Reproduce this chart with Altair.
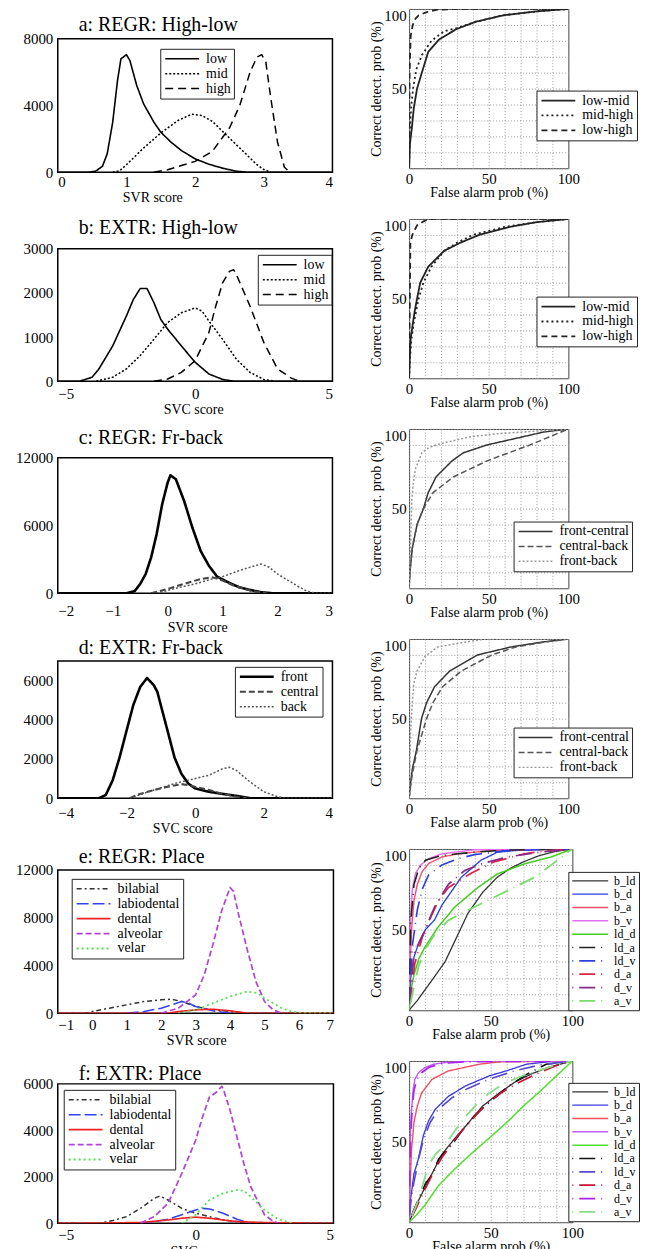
import altair as alt
import pandas as pd

FONT = "Liberation Serif"

# ---------------- panel a : REGR High-low ----------------
A_NAMES = ["low", "mid", "high"]
a_low = [[0, 0], [0.45, 0], [0.55, 60], [0.65, 350], [0.72, 1100], [0.8, 3000], [0.87, 5500], [0.92, 6800],
         [1.0, 7050], [1.05, 6700], [1.15, 5200], [1.25, 4100], [1.4, 3000], [1.5, 2400], [1.65, 1800],
         [1.8, 1300], [2.0, 800], [2.2, 480], [2.4, 240], [2.6, 60], [2.75, 0], [4, 0]]
a_mid = [[0.8, 0], [0.9, 80], [1.0, 450], [1.25, 1450], [1.5, 2350], [1.75, 3100], [1.95, 3480], [2.1, 3400],
         [2.25, 3050], [2.5, 2050], [2.75, 1050], [2.9, 450], [3.0, 160], [3.1, 0]]
a_high = [[1.4, 0], [1.6, 150], [1.8, 400], [2.0, 650], [2.25, 1250], [2.5, 2650], [2.65, 4000], [2.8, 6000],
          [2.9, 6900], [2.97, 7050], [3.03, 6600], [3.1, 4500], [3.2, 1800], [3.3, 300], [3.38, 0]]

RA_NAMES = ["low-mid", "mid-high", "low-high"]
ra_lm = [[0, 0], [0.5, 15], [1.7, 25], [3, 38], [5, 50], [8, 60], [12, 73], [19, 81], [30, 87.5], [42, 92],
         [59, 96], [80, 98.5], [100, 100]]
ra_mh = [[0, 0], [0.5, 25], [1.5, 40], [2.5, 50], [4.5, 62], [8, 71], [14, 80], [22, 86], [30, 88], [42, 92],
         [59, 96], [80, 98.5], [100, 100]]
ra_lh = [[0, 0], [0.3, 60], [1, 83], [2.3, 90], [4, 94], [6, 96], [11, 98], [17, 99.5], [30, 100], [100, 100]]

# ---------------- panel b : EXTR High-low ----------------
b_low = [[-5, 0], [-4.2, 0], [-3.75, 90], [-3.5, 280], [-3, 800], [-2.5, 1480], [-2.25, 1850], [-2, 2100],
         [-1.75, 2100], [-1.5, 1780], [-1.25, 1400], [-1, 1180], [-0.5, 800], [0, 430], [0.5, 165], [1, 40],
         [1.4, 0], [5, 0]]
b_mid = [[-3.6, 0], [-3, 90], [-2.5, 280], [-2, 580], [-1.5, 950], [-1, 1330], [-0.5, 1550], [0, 1660],
         [0.25, 1590], [0.5, 1365], [1, 950], [1.5, 500], [2, 200], [2.5, 40], [2.9, 0]]
b_high = [[-1.5, 0], [-1, 50], [-0.5, 200], [0, 465], [0.5, 1100], [0.75, 1700], [1, 2230], [1.25, 2490],
          [1.4, 2530], [1.5, 2420], [2, 1700], [2.5, 880], [3, 280], [3.5, 70], [3.8, 0]]

rb_lm = [[0, 0], [0.5, 15], [1, 25], [2, 32], [3.5, 42], [5, 50], [7, 60], [12, 70], [22, 80], [32, 85],
         [44, 90], [63, 95], [80, 98], [100, 100]]
rb_mh = [[0, 0], [0.5, 12], [1.5, 25], [3, 35], [6, 50], [9, 60], [14, 70], [22, 80], [30, 85], [40, 90],
         [60, 95], [80, 98], [100, 100]]
rb_lh = [[0, 0], [0.3, 30], [0.8, 85], [2, 90], [5, 96], [10, 99], [15, 100], [100, 100]]

# ---------------- panel c : REGR Fr-back ----------------
C_NAMES = ["front", "central", "back"]
c_front = [[-2, 0], [-0.75, 0], [-0.6, 180], [-0.5, 820], [-0.4, 1700], [-0.3, 3180], [-0.2, 5240],
           [-0.1, 7880], [0, 9800], [0.05, 10450], [0.15, 10100], [0.3, 8180], [0.45, 5820], [0.6, 3760],
           [0.75, 2440], [0.9, 1470], [1.1, 970], [1.3, 530], [1.5, 290], [1.7, 90], [1.9, 0], [3, 0]]
c_central = [[-0.3, 0], [0, 380], [0.2, 680], [0.4, 970], [0.6, 1260], [0.8, 1410], [0.9, 1300], [1.0, 1120],
             [1.2, 680], [1.5, 240], [1.8, 0]]
c_back = [[-0.2, 0], [0.2, 500], [0.5, 820], [0.8, 1250], [1.0, 1470], [1.3, 2000], [1.5, 2300], [1.7, 2590],
          [1.85, 2300], [2, 1700], [2.2, 1120], [2.4, 530], [2.55, 150], [2.7, 0], [3, 0]]

RC_NAMES = ["front-central", "central-back", "front-back"]
rc_fc = [[0, 0], [0.5, 10], [1, 15], [2, 25], [5, 40], [9, 50], [12, 60], [17, 70], [27, 80], [34, 85],
         [49, 90], [71, 95], [84, 98], [100, 100]]
rc_cb = [[0, 0], [0.5, 10], [1, 15], [2, 25], [5, 40], [9, 50], [15, 60], [28, 70], [49, 80], [76, 90],
         [88, 95], [100, 100]]
rc_fb = [[0, 0], [0.5, 20], [1, 30], [1.7, 55], [2.5, 65], [4, 75], [8, 85], [12, 88], [17, 90], [25, 92],
         [38, 95], [55, 97], [70, 98], [100, 100]]

# ---------------- panel d : EXTR Fr-back ----------------
d_front = [[-4, 0], [-2.8, 0], [-2.6, 170], [-2.4, 920], [-2.2, 2080], [-2, 3420], [-1.8, 4750], [-1.6, 5670],
           [-1.4, 6130], [-1.2, 5750], [-1.1, 5420], [-1, 4750], [-0.8, 3420], [-0.6, 2080], [-0.4, 1250],
           [-0.2, 750], [0, 500], [0.4, 330], [0.8, 220], [1.2, 120], [1.6, 0], [4, 0]]
d_central = [[-1.9, 0], [-1.7, 170], [-1.2, 420], [-0.8, 580], [-0.4, 720], [-0.2, 670], [0, 580], [0.4, 420],
             [0.8, 220], [1.2, 80], [1.5, 0]]
d_back = [[-1.9, 0], [-1.2, 420], [-0.6, 750], [0, 1000], [0.4, 1170], [0.8, 1500], [1, 1580], [1.2, 1420],
          [1.6, 830], [2, 330], [2.4, 80], [2.6, 0], [4, 0]]

rd_fc = [[0, 0], [0.5, 5], [1, 10], [2, 18], [4.6, 30], [7.8, 50], [11, 60], [16, 70], [25.6, 80], [43, 90],
         [64, 95], [83, 98], [100, 100]]
rd_cb = [[0, 0], [1, 8], [2, 15], [5, 30], [11, 50], [15, 60], [21, 70], [33, 80], [52, 90], [67, 95],
         [85, 98], [100, 100]]
rd_fb = [[0, 0], [0.5, 25], [1, 42], [2, 60], [3, 72], [5, 80], [10, 89], [18, 95], [35, 98], [48, 100],
         [100, 100]]

# ---------------- panel e : REGR Place ----------------
P_NAMES = ["bilabial", "labiodental", "dental", "alveolar", "velar"]
e_bil = [[-1, 0], [-0.2, 0], [0, 140], [0.5, 420], [1, 700], [1.5, 980], [2, 1120], [2.3, 1170], [2.6, 980],
         [3, 560], [3.5, 280], [4, 140], [4.5, 0], [7, 0]]
e_lab = [[1, 0], [1.5, 140], [2, 420], [2.3, 700], [2.6, 980], [2.8, 840], [3, 560], [3.5, 200], [4, 0]]
e_den = [[-1, 0], [2.2, 0], [2.5, 140], [3, 280], [3.5, 335], [4, 200], [4.5, 0], [7, 0]]
e_alv = [[2, 0], [2.5, 420], [3, 1540], [3.25, 3200], [3.5, 5730], [3.75, 8520], [4, 10530], [4.1, 10200],
         [4.25, 8240], [4.5, 5300], [4.75, 2650], [5, 980], [5.25, 280], [5.5, 0]]
e_vel = [[2.5, 0], [3, 280], [3.5, 840], [4, 1400], [4.5, 1820], [4.8, 1680], [5, 1260], [5.5, 420],
         [5.8, 140], [6.1, 0], [7, 0]]

R_NAMES = ["b_ld", "b_d", "b_a", "b_v", "ld_d", "ld_a", "ld_v", "d_a", "d_v", "a_v"]
re_b_ld = [[0, 0], [5, 6], [10, 13], [15, 20], [22, 30], [29, 45], [36, 60], [45, 73], [54, 82.5], [62, 88],
           [70, 92], [80, 96], [90, 98.5], [100, 100]]
re_b_d = [[0, 0], [1, 20], [3, 33], [6, 42], [10, 50], [15.6, 56], [20, 65], [24.8, 72], [32, 82.5], [44, 93],
          [54, 98], [70, 99.5], [100, 100]]
re_b_a = [[0, 0], [0.5, 25], [1.5, 50], [3, 68], [5, 78], [8, 86], [12, 91], [20, 95], [30, 97], [50, 99],
          [100, 100]]
re_b_v = [[0, 0], [0.3, 40], [1, 60], [2, 75], [4, 85], [7, 90], [12, 94], [20, 97], [40, 99.5], [100, 100]]
re_ld_d = [[0, 0], [1, 12], [3, 22], [6, 32], [9.6, 39], [17.7, 51.5], [28, 64], [42, 76], [54, 84.5],
           [70.5, 90.7], [87, 95], [100, 100]]
re_ld_a = [[0, 0], [1, 55], [3, 78], [6, 88], [10, 93], [20, 96], [30, 97], [40, 98], [60, 99.3], [100, 100]]
re_ld_v = [[0, 0], [2, 40], [5, 62], [8, 75], [12, 84], [20, 90], [30, 94], [40, 96.5], [60, 99], [100, 100]]
re_d_a = [[0, 0], [3.5, 29], [8, 45], [12, 55], [18, 68], [24, 76], [38, 85], [52, 92], [70.5, 97], [85, 99],
          [100, 100]]
re_d_v = [[0, 0], [3, 35], [8.5, 47], [15.6, 64], [24, 78], [34, 86.6], [45, 91], [60, 95], [80, 98],
          [100, 100]]
re_a_v = [[0, 0], [3, 15], [6, 28], [10, 38], [15, 46], [24, 55.7], [32, 60], [44, 66], [54, 71], [64, 76],
          [77, 82.5], [87, 90], [97, 98], [100, 100]]

# ---------------- panel f : EXTR Place ----------------
f_bil = [[-5, 0], [-3.5, 0], [-3, 115], [-2.5, 285], [-2, 640], [-1.5, 1070], [-1.3, 1170], [-1, 1000],
         [-0.5, 640], [0, 430], [0.5, 285], [1, 140], [1.5, 70], [2, 0], [5, 0]]
f_lab = [[-2, 0], [-1.5, 70], [-1, 170], [-0.5, 360], [0, 570], [0.25, 640], [0.5, 615], [1, 430], [1.5, 170],
         [2, 0]]
f_den = [[-5, 0], [-4, 0], [-2, 30], [-1, 140], [-0.5, 215], [0, 260], [0.5, 215], [1, 140], [1.5, 70],
         [2.5, 30], [4, 0], [5, 0]]
f_alv = [[-2, 0], [-1.5, 285], [-1, 860], [-0.5, 2140], [0, 3570], [0.25, 4570], [0.5, 5430], [0.75, 5640],
         [0.95, 5890], [1, 5790], [1.25, 4860], [1.5, 3710], [1.75, 2570], [2, 1570], [2.5, 360], [2.75, 140],
         [3, 0]]
f_vel = [[-0.5, 0], [0, 360], [0.5, 1000], [1, 1290], [1.5, 1430], [1.75, 1400], [2, 1140], [2.5, 570],
         [3, 170], [3.3, 70], [3.5, 0]]

rf_b_ld = [[0, 0], [5, 12], [10, 22], [15, 32], [20, 42], [28, 52], [35, 60], [45, 72], [55, 80], [65, 87],
           [75, 92], [85, 96], [100, 100]]
rf_b_d = [[0, 0], [1, 15], [3, 30], [5.6, 39], [8.7, 53.6], [12, 63], [16, 70], [24, 78], [34.5, 84.5],
          [49, 90.7], [60, 94], [72, 98], [85, 99.5], [100, 100]]
rf_b_a = [[0, 0], [0.5, 20], [1.5, 45], [3, 62], [5, 72], [7.6, 80], [14, 88.6], [24, 93.8], [43, 98],
          [55, 99.4], [100, 100]]
rf_b_v = [[0, 0], [0.3, 30], [0.8, 55], [1.4, 68], [2.5, 82], [3.5, 88.6], [6, 93], [9.7, 95.9], [15, 98],
          [22, 99], [40, 100], [100, 100]]
rf_ld_d = [[0, 0], [5, 5], [10, 11], [18, 22.7], [28, 33], [38.6, 43], [50, 53], [61, 63], [70, 72], [80, 81],
           [90, 90.5], [100, 100]]
rf_ld_a = [[0, 0], [3, 8], [7, 17], [10, 24], [13.8, 29], [18, 39], [24, 46], [28, 50.5], [32.4, 56.7],
           [40, 66], [50, 75], [61, 84.5], [72, 91.7], [84, 98], [100, 100]]
rf_ld_v = [[0, 0], [1, 12], [3, 25], [6, 40], [9, 52], [13, 62], [18, 70], [26, 77], [36, 83], [50, 89],
           [65, 94], [80, 97.5], [100, 100]]
rf_d_a = [[0, 0], [4, 8], [8, 17], [12, 25], [16, 33], [20, 40], [26, 48], [30, 54], [38, 63], [46, 72],
          [56, 80], [66, 86], [78, 92], [90, 97], [100, 100]]
rf_d_v = [[0, 0], [0.5, 35], [1, 55], [2, 72], [3, 82], [5, 89], [8, 93], [12, 96], [20, 98.5], [35, 99.5],
          [100, 100]]
rf_a_v = [[0, 0], [5, 12], [8, 22], [11.8, 35], [16, 42], [22, 48], [28, 56.7], [35, 66], [42, 74], [49, 80],
          [58, 86], [70, 91], [82, 95], [92, 98], [100, 100]]

SPACER = [0]

# ---------------- styles ----------------
SOLID = [1, 0]
DOT = [2, 2]
DASH = [8, 5]
DASHDOT = [1, 6, 16, 6]
IND = dict(color="independent", strokeDash="independent", strokeWidth="independent")


def make_df(names, series):
    recs = []
    for n, pts in zip(names, series):
        for i, (x, y) in enumerate(pts):
            recs.append({"s": n, "i": i, "x": x, "y": y})
    return pd.DataFrame(recs)


def mk_legend(pos, fs=14, length=34, sw=1.5, rowpad=1, pad=3):
    # a horizontal stroke drawn from the symbol's left edge, "length" pixels long (symbol size 100 -> unit 5px)
    path = "M-1,0H%.2f" % (length / 5.0 - 1)
    return alt.Legend(title=None, orient="none", legendX=pos[0], legendY=pos[1],
                      symbolType=path, symbolSize=100, symbolStrokeWidth=sw,
                      labelFont=FONT, labelFontSize=fs, labelColor="black",
                      fillColor="white", strokeColor="#222", padding=pad, rowPadding=rowpad,
                      labelOffset=length - 10 + 5, labelLimit=200)


def lines(df, names, colors, dashes, widths, xscale, yscale, xaxis, yaxis, legend):
    return alt.Chart(df).mark_line(clip=True, strokeJoin="round").encode(
        x=alt.X("x:Q", scale=xscale, axis=xaxis),
        y=alt.Y("y:Q", scale=yscale, axis=yaxis),
        color=alt.Color("s:N", scale=alt.Scale(domain=names, range=colors), legend=legend),
        strokeDash=alt.StrokeDash("s:N", scale=alt.Scale(domain=names, range=dashes), legend=legend),
        strokeWidth=alt.StrokeWidth("s:N", scale=alt.Scale(domain=names, range=widths), legend=None),
        order=alt.Order("i:Q"),
    )


def left_panel(title, names, series, colors, dashes, widths, xdom, xvals, ydom, yvals, xtitle, w, h,
               lh, toff, lp, tp, tx, leg=None):
    df = make_df(names, series)
    xaxis = alt.Axis(values=xvals, title=xtitle, grid=False, ticks=False, domain=False, labelPadding=lp,
                     titlePadding=tp, titleX=tx, format="d", labelFlush=3)
    yaxis = alt.Axis(values=yvals, title=None, grid=False, ticks=False, domain=False, labelPadding=5,
                     format="d", minExtent=49, maxExtent=49)
    lg = mk_legend(leg, fs=14, length=34, rowpad=1, pad=3) if leg is not None else None
    ch = lines(df, names, colors, dashes, widths,
               alt.Scale(domain=xdom, nice=False, zero=False),
               alt.Scale(domain=ydom, nice=False, zero=False), xaxis, yaxis, lg)
    return ch.properties(
        width=w, height=h,
        title=alt.TitleParams(["", title], anchor="start", frame="group", dx=21, fontSize=20, font=FONT,
                              fontWeight="normal", lineHeight=lh, offset=toff, color="black"),
        view=alt.ViewBackground(stroke="black", strokeWidth=1.5),
    )


GRID = list(range(0, 101, 10))


def right_panel(names, series, colors, dashes, widths, w, h, leg, leg_fs=14, leg_len=34, rowpad=1, pad=3):
    df = make_df(names, series)
    xaxis = alt.Axis(values=GRID, labelExpr="datum.value % 50 === 0 ? datum.label : ''",
                     title="False alarm prob (%)", grid=True, gridColor="#9a9a9a", gridDash=[1, 2],
                     ticks=False, domain=False, labelPadding=3, titlePadding=-1, labelFlush=False)
    yaxis = alt.Axis(values=GRID, labelExpr="datum.value >= 50 && datum.value % 50 === 0 ? datum.label : ''",
                     title="Correct detect. prob (%)", grid=True, gridColor="#9a9a9a", gridDash=[1, 2],
                     ticks=False, domain=False, labelPadding=3, titlePadding=2, minExtent=24, maxExtent=24,
                     labelFlush=True)
    lg = mk_legend(leg, fs=leg_fs, length=leg_len, rowpad=rowpad, pad=pad)
    ch = lines(df, names, colors, dashes, widths,
               alt.Scale(domain=[0, 100], nice=False), alt.Scale(domain=[0, 100], nice=False),
               xaxis, yaxis, lg)
    return ch.properties(width=w, height=h, view=alt.ViewBackground(stroke="#444", strokeWidth=1))


BW = ["black", "black", "black"]
HL_DASH = [SOLID, DOT, DASH]
ROC_DASH = [SOLID, [2, 3], [6, 4]]
FB_COLORS = ["black", "#444", "#555"]
RFB_COLORS = ["#333", "#555", "#999"]
P_COLORS = ["#333333", "#3344ee", "#ee2222", "#b044d8", "#55e055"]
P_DASH = [[5, 3, 2, 3], [12, 4], SOLID, [6, 3], [2, 3]]
RE_COLORS = ["#333333", "#2a3fe0", "#f0506e", "#e070f0", "#44cc22",
             "#222222", "#2a3fe0", "#dd2244", "#882a88", "#77dd66"]
RF_COLORS = ["#333333", "#3a3ae0", "#f05060", "#c060f0", "#55dd33",
             "#111111", "#5a4ad0", "#cc1133", "#aa22ee", "#88dd88"]
R_DASH = [SOLID] * 5 + [DASHDOT] * 5

# invisible 1px element that lets the right column start higher than the first left plot
spacer = alt.Chart(pd.DataFrame({"v": SPACER})).mark_point(opacity=0).encode(
    x=alt.X("v:Q", axis=None), y=alt.Y("v:Q", axis=None)
).properties(width=1, height=1, view=alt.ViewBackground(stroke="transparent"))

left_col = alt.vconcat(
    spacer,
    left_panel("a: REGR: High-low", A_NAMES, [a_low, a_mid, a_high], BW, HL_DASH, [1.6, 1.5, 1.5],
               [0, 4], [0, 1, 2, 3, 4], [0, 8000], [0, 4000, 8000], "SVR score", 276, 134,
               lh=1, toff=-3.5, lp=2, tp=1, tx=95, leg=(103, 10)),
    left_panel("b: EXTR: High-low", A_NAMES, [b_low, b_mid, b_high], BW, HL_DASH, [1.6, 1.5, 1.5],
               [-5, 5], [-5, 0, 5], [0, 3000], [0, 1000, 2000, 3000], "SVC score", 276, 133,
               lh=12.4, toff=3.8, lp=5, tp=1, tx=136, leg=(201, 6)),
    left_panel("c: REGR: Fr-back", C_NAMES, [c_front, c_central, c_back], FB_COLORS,
               [SOLID, [6, 3], DOT], [2.6, 1.5, 1.5],
               [-2, 3], [-2, -1, 0, 1, 2, 3], [0, 12000], [0, 6000, 12000], "SVR score", 276, 136,
               lh=9.8, toff=3.2, lp=10.7, tp=1.8, tx=140),
    left_panel("d: EXTR: Fr-back", C_NAMES, [d_front, d_central, d_back], FB_COLORS,
               [SOLID, [6, 3], DOT], [2.6, 1.5, 1.5],
               [-4, 4], [-4, -2, 0, 2, 4], [0, 7000], [0, 2000, 4000, 6000], "SVC score", 276, 138,
               lh=1, toff=3.2, lp=7, tp=1, tx=125, leg=(178, 6)),
    left_panel("e: REGR: Place", P_NAMES, [e_bil, e_lab, e_den, e_alv, e_vel], P_COLORS, P_DASH,
               [1.5, 1.8, 1.5, 1.8, 1.8], [-1, 7], [-1, 0, 1, 2, 3, 4, 5, 6, 7], [0, 12000],
               [0, 4000, 8000, 12000], "SVR score", 277, 144,
               lh=10.2, toff=-4.2, lp=4, tp=1, tx=139, leg=(14, 9)),
    left_panel("f: EXTR: Place", P_NAMES, [f_bil, f_lab, f_den, f_alv, f_vel], P_COLORS, P_DASH,
               [1.5, 1.8, 1.8, 1.8, 1.8], [-5, 5], [-5, 0, 5], [0, 6000],
               [0, 2000, 4000, 6000], "SVC score", 277, 140,
               lh=14.9, toff=-6.8, lp=4.4, tp=2, tx=143, leg=(6, 6)),
    spacing=0,
).resolve_scale(**IND).resolve_legend(**IND)

right_col = alt.vconcat(
    right_panel(RA_NAMES, [ra_lm, ra_mh, ra_lh], ["#222"] * 3, ROC_DASH, [1.8] * 3, 160, 160, (128, 82)),
    right_panel(RA_NAMES, [rb_lm, rb_mh, rb_lh], ["#222"] * 3, ROC_DASH, [1.8] * 3, 160, 160, (128, 78)),
    right_panel(RC_NAMES, [rc_fc, rc_cb, rc_fb], RFB_COLORS, [SOLID, [6, 3], [2, 2]], [1.5] * 3, 160, 160,
                (105, 93)),
    right_panel(RC_NAMES, [rd_fc, rd_cb, rd_fb], RFB_COLORS, [SOLID, [6, 3], [2, 2]], [1.5] * 3, 160, 160,
                (105, 89)),
    right_panel(R_NAMES, [re_b_ld, re_b_d, re_b_a, re_b_v, re_ld_d, re_ld_a, re_ld_v, re_d_a, re_d_v, re_a_v],
                RE_COLORS, R_DASH, [1.3, 1.8, 1.8, 1.8, 1.6, 1.8, 1.8, 1.8, 1.8, 1.8], 164, 162, (160, 23),
                leg_fs=12, leg_len=36, rowpad=1.4, pad=3),
    right_panel(R_NAMES, [rf_b_ld, rf_b_d, rf_b_a, rf_b_v, rf_ld_d, rf_ld_a, rf_ld_v, rf_d_a, rf_d_v, rf_a_v],
                RF_COLORS, R_DASH, [1.3, 1.8, 1.8, 1.8, 1.8, 1.8, 1.8, 1.8, 1.8, 1.8], 164, 162, (160, 22),
                leg_fs=12, leg_len=36, rowpad=1.4, pad=3),
    spacing=18,
).resolve_scale(**IND).resolve_legend(**IND)

chart = alt.concat(left_col, right_col, columns=2, spacing=34).resolve_scale(
    **IND).resolve_legend(**IND).properties(
    padding={"left": 0, "top": -5, "right": 0, "bottom": 0}
).configure_axis(
    labelFont=FONT, titleFont=FONT, labelFontSize=15, titleFontSize=14, labelColor="black",
    titleColor="black", titleFontWeight="normal",
).configure_view(stroke="black")

chart.save("out.html", embed_options={"renderer": "svg", "actions": False})
